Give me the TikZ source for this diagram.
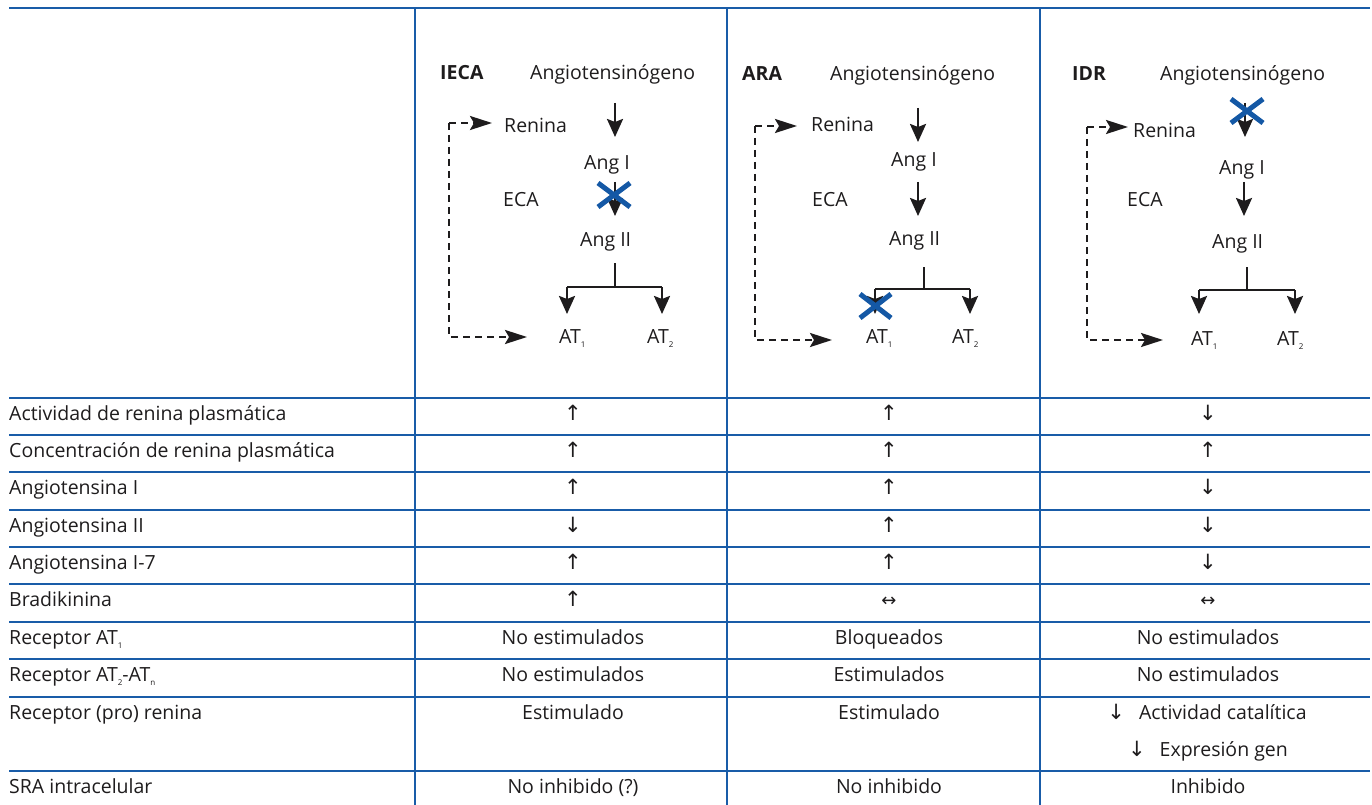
\documentclass[tikz,border=0pt]{standalone}
\usepackage{fontspec}
\setmainfont{Open Sans}
\newfontfamily\symf{DejaVu Sans}
\usetikzlibrary{arrows.meta}
\definecolor{tblue}{RGB}{25,92,168}
\definecolor{xblue}{RGB}{20,88,165}
\definecolor{ink}{RGB}{30,28,29}
\newcommand{\sbs}[1]{\raisebox{-4.5pt}{\fontsize{8}{8}\selectfont #1}}
\newcommand{\up}{{\symf\fontsize{21}{21}\selectfont ↑}}
\newcommand{\dn}{{\symf\fontsize{21}{21}\selectfont ↓}}
\newcommand{\lr}{{\symf\fontsize{18}{21}\selectfont ↔}}
\begin{document}
\begin{tikzpicture}[x=1pt,y=-1pt,
  grid/.style={draw=tblue,line width=1.6pt},
  lbl/.style={anchor=base west,inner sep=0pt,text=ink,font=\fontsize{19.5}{23}\selectfont},
  val/.style={anchor=base,inner sep=0pt,text=ink,font=\fontsize{19.5}{23}\selectfont},
  bld/.style={lbl,font=\fontsize{19.5}{23}\selectfont\bfseries},
  arr/.style={draw=ink,line width=2.5pt,-{Stealth[length=18pt,width=16pt,inset=3pt]}},
  brl/.style={draw=ink,line width=2.5pt},
  dsh/.style={draw=ink,line width=2.5pt,dash pattern=on 7pt off 5pt,-{Stealth[length=22pt,width=14pt,inset=4pt]}},
  xm/.style={draw=xblue,line width=5pt}]
\useasboundingbox (0,0) rectangle (1372,805);

% ---------- table grid ----------
\foreach \yy in {8,398,435,472,510,547,584,622,659,697,771}
  \draw[grid] (9,\yy) -- (1370,\yy);
\foreach \xx in {415,727,1040}
  \draw[grid] (\xx,8) -- (\xx,805);

% ---------- column 1: IECA ----------
\node[bld] (h1) at (440,80) {IECA};
\node[lbl] (ag1) at (530,80) {Angiotensinógeno};
\node[lbl] (re1) at (504,133) {Renina};
\node[lbl] (ai1) at (584,170) {Ang I};
\node[lbl] (ec1) at (503,206) {ECA};
\node[lbl] (aii1) at (580,246) {Ang II};
\node[lbl] (ta1) at (559,343) {AT\sbs{1}};
\node[lbl] (tb1) at (647,343) {AT\sbs{2}};
\coordinate (p1a) at (615,103); \coordinate (p1b) at (615,137);
\coordinate (q1a) at (615,182); \coordinate (q1b) at (615,216);
\coordinate (r1a) at (615,263); \coordinate (r1b) at (615,287);
\coordinate (r1l) at (567,287); \coordinate (r1r) at (662,287);
\coordinate (r1lb) at (567,314); \coordinate (r1rb) at (662,314);
\coordinate (d1t) at (449,123); \coordinate (d1b) at (449,337);
\coordinate (d1te) at (492,123); \coordinate (d1be) at (527,337);
\draw[arr] (p1a) -- (p1b);
\draw[arr] (q1a) -- (q1b);
\draw[brl] (r1a) -- (r1b);
\draw[brl] (r1l) -- (r1r);
\draw[arr] (r1l) -- (r1lb);
\draw[arr] (r1r) -- (r1rb);
\draw[dsh] (d1t) -- (d1te);
\draw[dsh] (d1t) -- (d1b) -- (d1be);
\draw[xm] (598,183) -- (630,207);
\draw[xm] (598,207) -- (630,183);

% ---------- column 2: ARA ----------
\node[bld] (h2) at (742,81) {ARA};
\node[lbl] (ag2) at (830,81) {Angiotensinógeno};
\node[lbl] (re2) at (811,132) {Renina};
\node[lbl] (ai2) at (891,167) {Ang I};
\node[lbl] (ec2) at (812,206) {ECA};
\node[lbl] (aii2) at (889,245) {Ang II};
\node[lbl] (ta2) at (866,343) {AT\sbs{1}};
\node[lbl] (tb2) at (952,343) {AT\sbs{2}};
\coordinate (p2a) at (918,108); \coordinate (p2b) at (918,142);
\coordinate (q2a) at (918,182); \coordinate (q2b) at (918,216);
\coordinate (r2a) at (924,267); \coordinate (r2b) at (924,289);
\coordinate (r2l) at (875,289); \coordinate (r2r) at (970,289);
\coordinate (r2lb) at (875,314); \coordinate (r2rb) at (970,314);
\coordinate (d2t) at (755,126); \coordinate (d2b) at (755,340);
\coordinate (d2te) at (797,126); \coordinate (d2be) at (832,340);
\draw[arr] (p2a) -- (p2b);
\draw[arr] (q2a) -- (q2b);
\draw[brl] (r2a) -- (r2b);
\draw[brl] (r2l) -- (r2r);
\draw[arr] (r2l) -- (r2lb);
\draw[arr] (r2r) -- (r2rb);
\draw[dsh] (d2t) -- (d2te);
\draw[dsh] (d2t) -- (d2b) -- (d2be);
\draw[xm] (860,294) -- (891,318);
\draw[xm] (860,318) -- (891,294);

% ---------- column 3: IDR ----------
\node[bld] (h3) at (1072,81) {IDR};
\node[lbl] (ag3) at (1160,81) {Angiotensinógeno};
\node[lbl] (re3) at (1133,138) {Renina};
\node[lbl] (ai3) at (1219,175) {Ang I};
\node[lbl] (ec3) at (1127,206) {ECA};
\node[lbl] (aii3) at (1212,248) {Ang II};
\node[lbl] (ta3) at (1191,345) {AT\sbs{1}};
\node[lbl] (tb3) at (1277,345) {AT\sbs{2}};
\coordinate (p3a) at (1245,103); \coordinate (p3b) at (1245,137);
\coordinate (q3a) at (1244,182); \coordinate (q3b) at (1244,216);
\coordinate (r3a) at (1247,267); \coordinate (r3b) at (1247,290);
\coordinate (r3l) at (1199,290); \coordinate (r3r) at (1295,290);
\coordinate (r3lb) at (1199,314); \coordinate (r3rb) at (1295,314);
\coordinate (d3t) at (1087,127); \coordinate (d3b) at (1087,340);
\coordinate (d3te) at (1128,127); \coordinate (d3be) at (1163,340);
\draw[arr] (p3a) -- (p3b);
\draw[arr] (q3a) -- (q3b);
\draw[brl] (r3a) -- (r3b);
\draw[brl] (r3l) -- (r3r);
\draw[arr] (r3l) -- (r3lb);
\draw[arr] (r3r) -- (r3rb);
\draw[dsh] (d3t) -- (d3te);
\draw[dsh] (d3t) -- (d3b) -- (d3be);
\draw[xm] (1231,99) -- (1263,123);
\draw[xm] (1231,123) -- (1263,99);

% ---------- table rows ----------
\node[lbl] (l1) at (9,420) {Actividad de renina plasmática};
\node[lbl] (l2) at (9,457) {Concentración de renina plasmática};
\node[lbl] (l3) at (9,494) {Angiotensina I};
\node[lbl] (l4) at (9,532) {Angiotensina II};
\node[lbl] (l5) at (9,569) {Angiotensina I-7};
\node[lbl] (l6) at (9,606) {Bradikinina};
\node[lbl] (l7) at (9,644) {Receptor AT\sbs{1}};
\node[lbl] (l8) at (9,681) {Receptor AT\sbs{2}-AT\sbs{n}};
\node[lbl] (l9) at (9,719) {Receptor (pro) renina};
\node[lbl] (l10) at (9,793) {SRA intracelular};

% values col 1
\node[val] (a1) at (573,420) {\up};
\node[val] (a2) at (573,457) {\up};
\node[val] (a3) at (573,494) {\up};
\node[val] (a4) at (573,532) {\dn};
\node[val] (a5) at (573,569) {\up};
\node[val] (a6) at (573,606) {\up};
\node[val] (a7) at (573,644) {No estimulados};
\node[val] (a8) at (573,681) {No estimulados};
\node[val] (a9) at (573,719) {Estimulado};
\node[val] (a10) at (573,793) {No inhibido (?)};
% values col 2
\node[val] (b1) at (889,420) {\up};
\node[val] (b2) at (889,457) {\up};
\node[val] (b3) at (889,494) {\up};
\node[val] (b4) at (889,532) {\up};
\node[val] (b5) at (889,569) {\up};
\node[val] (b6) at (889,606) {\lr};
\node[val] (b7) at (889,644) {Bloqueados};
\node[val] (b8) at (889,681) {Estimulados};
\node[val] (b9) at (889,719) {Estimulado};
\node[val] (b10) at (889,793) {No inhibido};
% values col 3
\node[val] (c1) at (1208,420) {\dn};
\node[val] (c2) at (1208,457) {\up};
\node[val] (c3) at (1208,494) {\dn};
\node[val] (c4) at (1208,532) {\dn};
\node[val] (c5) at (1208,569) {\dn};
\node[val] (c6) at (1208,606) {\lr};
\node[val] (c7) at (1208,644) {No estimulados};
\node[val] (c8) at (1208,681) {No estimulados};
\node[val] (c9) at (1207,719) {\dn\hspace{14pt}Actividad catalítica};
\node[val] (c9b) at (1208,756) {\dn\hspace{14pt}Expresión gen};
\node[val] (c10) at (1208,793) {Inhibido};
\end{tikzpicture}
\end{document}
